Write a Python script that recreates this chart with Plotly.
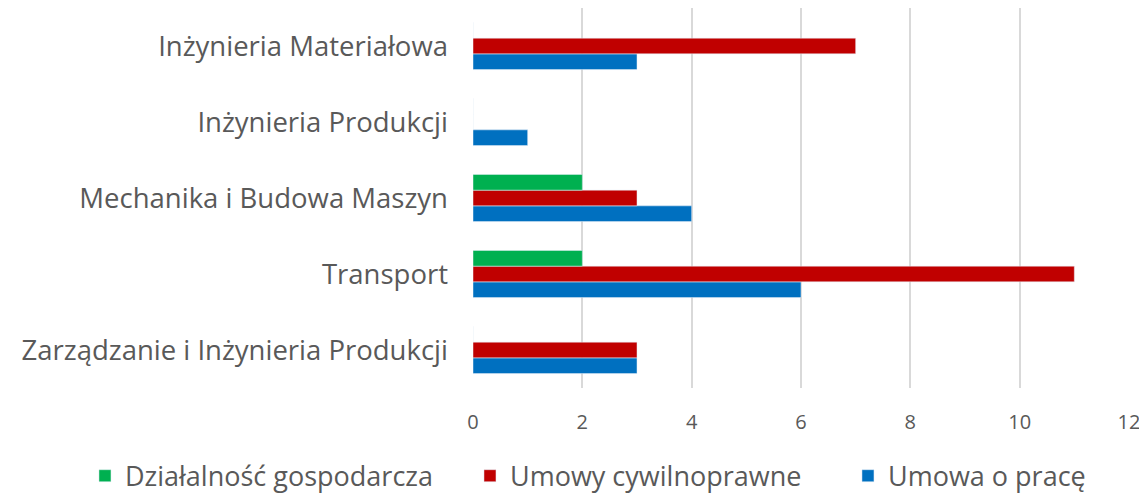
import plotly.graph_objects as go

categories = ["Zarządzanie i Inżynieria Produkcji", "Transport", "Mechanika i Budowa Maszyn",
              "Inżynieria Produkcji", "Inżynieria Materiałowa"]
umowa_o_prace = [3, 6, 4, 1, 3]
umowy_cywilnoprawne = [3, 11, 3, 0, 7]
dzialalnosc = [0, 2, 2, 0, 0]
x_ticks = [0, 2, 4, 6, 8, 10, 12]

fig = go.Figure()
fig.add_trace(go.Bar(y=categories, x=umowa_o_prace, orientation="h", name="Umowa o pracę",
                     marker=dict(color="#0070C0"), legend="legend3"))
fig.add_trace(go.Bar(y=categories, x=umowy_cywilnoprawne, orientation="h", name="Umowy cywilnoprawne",
                     marker=dict(color="#C00000"), legend="legend2"))
fig.add_trace(go.Bar(y=categories, x=dzialalnosc, orientation="h", name="Działalność gospodarcza",
                     marker=dict(color="#00B050"), legend="legend"))

leg_common = dict(orientation="h", xref="paper", yref="paper", xanchor="left",
                  y=-0.232, yanchor="middle", font=dict(size=27), itemwidth=30,
                  bgcolor="rgba(0,0,0,0)")

# page body has an 8px margin, so the figure is sized to fill the rest of the window
fig.update_layout(
    width=1139, height=488,
    margin=dict(l=465, r=18, t=0, b=108, autoexpand=False),
    barmode="group", bargap=0.38, bargroupgap=0,
    plot_bgcolor="white", paper_bgcolor="white",
    font=dict(family="Open Sans", color="#595959"),
    xaxis=dict(range=[0, 12], tickvals=x_ticks, showgrid=True, gridcolor="#D9D9D9", gridwidth=1.5,
               zeroline=False, showline=False, tickfont=dict(size=20), ticks="", ticklen=0,
               ticklabelstandoff=20),
    yaxis=dict(type="category", showgrid=False, tickfont=dict(size=27.5), ticks="",
               ticklabelstandoff=24),
    legend=dict(x=-0.5915, **leg_common),
    legend2=dict(x=-0.0046, **leg_common),
    legend3=dict(x=0.5716, **leg_common),
    showlegend=True,
)

fig.write_html("out.html")
